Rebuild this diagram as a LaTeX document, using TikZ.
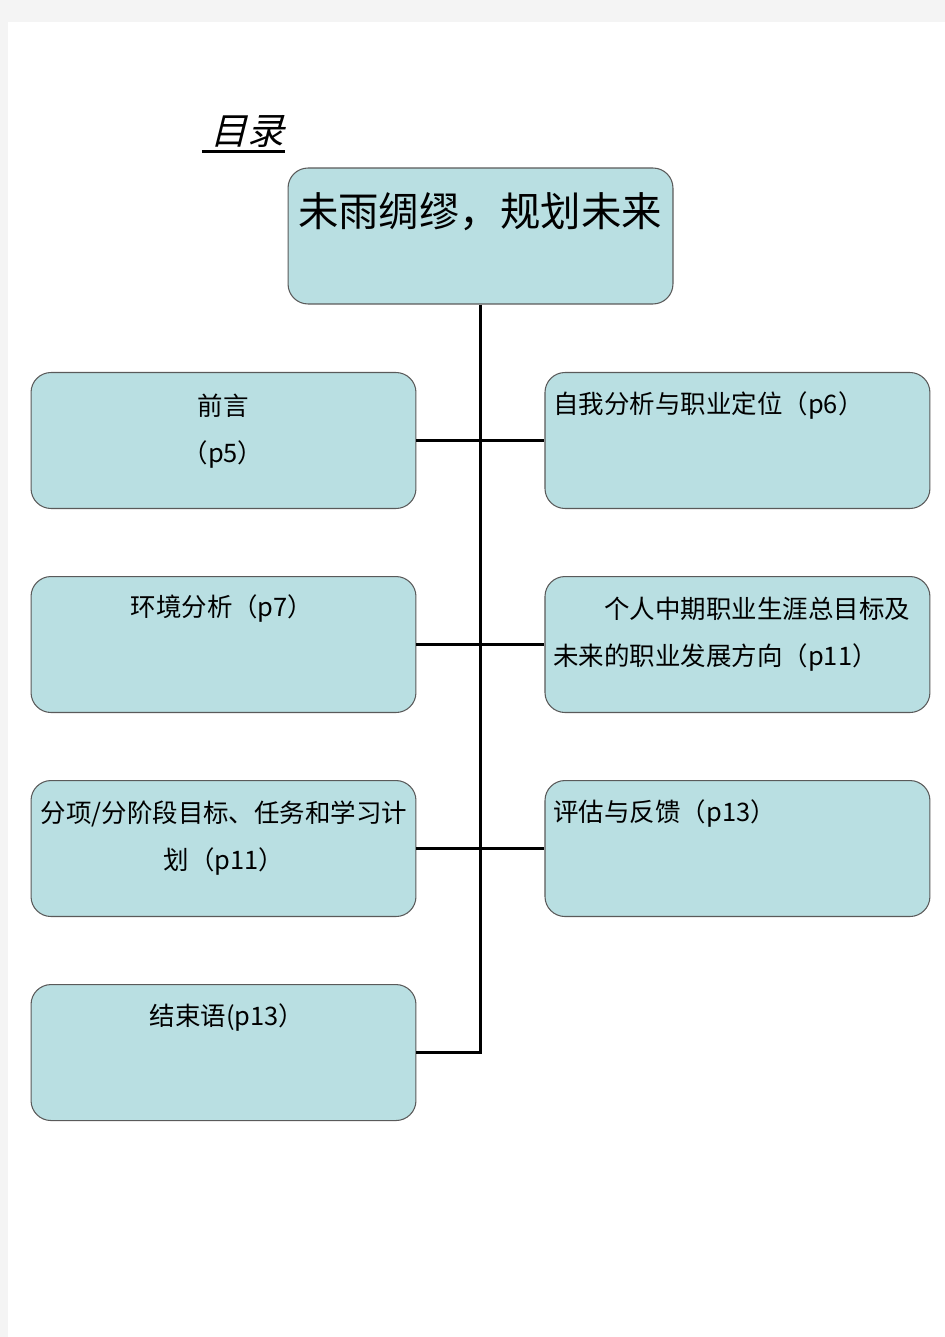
\documentclass[tikz,border=0pt]{standalone}
\usepackage{fontspec}
\setmainfont{Noto Sans CJK SC}
\newfontfamily\slantcjk{Noto Sans CJK SC}[FakeSlant=0.25]
\usetikzlibrary{positioning}
\definecolor{boxfill}{HTML}{B9DFE2}
\definecolor{boxline}{HTML}{5A5A5A}
\definecolor{pagegray}{HTML}{F4F4F4}

\begin{document}
\begin{tikzpicture}[x=0.02cm, y=-0.02cm,
  box/.style={draw=boxline, fill=boxfill, rounded corners=0.4cm, minimum width=7.7cm, minimum height=2.72cm, line width=0.6pt},
  txt/.style={inner sep=0pt, font=\fontsize{14.5}{27}\selectfont},
  link/.style={line width=1.7pt}]
% page
\fill[pagegray] (0,0) rectangle (945,1337);
\fill[white] (8,22) rectangle (945,1337);

% heading
\node (mulu) [inner sep=0pt, font=\slantcjk\fontsize{21}{24}\selectfont] at (247,131) {目录};
\draw[line width=1.3pt] ([xshift=-0.16cm, yshift=-0.08cm]mulu.south west) -- ([xshift=0.02cm, yshift=-0.08cm]mulu.south east);

% boxes
\node (top) [box] at (480.5,236) {};
\node (qy) [box] at (223.5,440.5) {};
\node (hj) [box, below=1.34cm of qy] {};
\node (fx) [box, below=1.34cm of hj] {};
\node (jsy) [box, below=1.34cm of fx] {};
\node (zw) [box, right=2.56cm of qy] {};
\node (mb) [box, right=2.56cm of hj] {};
\node (pg) [box, right=2.56cm of fx] {};

% texts
\node (topt) [txt, font=\fontsize{23}{26}\selectfont] at (480,212) {未雨绸缪，规划未来};
\node (qyt) [txt, align=center] at (223,431) {前言\\（p5）};
\node (zwt) [txt, anchor=west] at (553,406) {自我分析与职业定位（p6）};
\node (hjt) [txt] at (222,609) {环境分析（p7）};
\node (mbt) [txt, align=left, anchor=west] at (553,634) {\hspace*{2em}个人中期职业生涯总目标及\\未来的职业发展方向（p11）};
\node (fxt) [txt, align=center] at (224,838) {分项/分阶段目标、任务和学习计\\划（p11）};
\node (pgt) [txt, anchor=west] at (553,814) {评估与反馈（p13）};
\node (jsyt) [txt] at (227,1018) {结束语(p13）};

% links
\draw[link] (top.south) |- (jsy.east);
\draw[link] (qy.east) -- (zw.west);
\draw[link] (hj.east) -- (mb.west);
\draw[link] (fx.east) -- (pg.west);
\end{tikzpicture}
\end{document}
